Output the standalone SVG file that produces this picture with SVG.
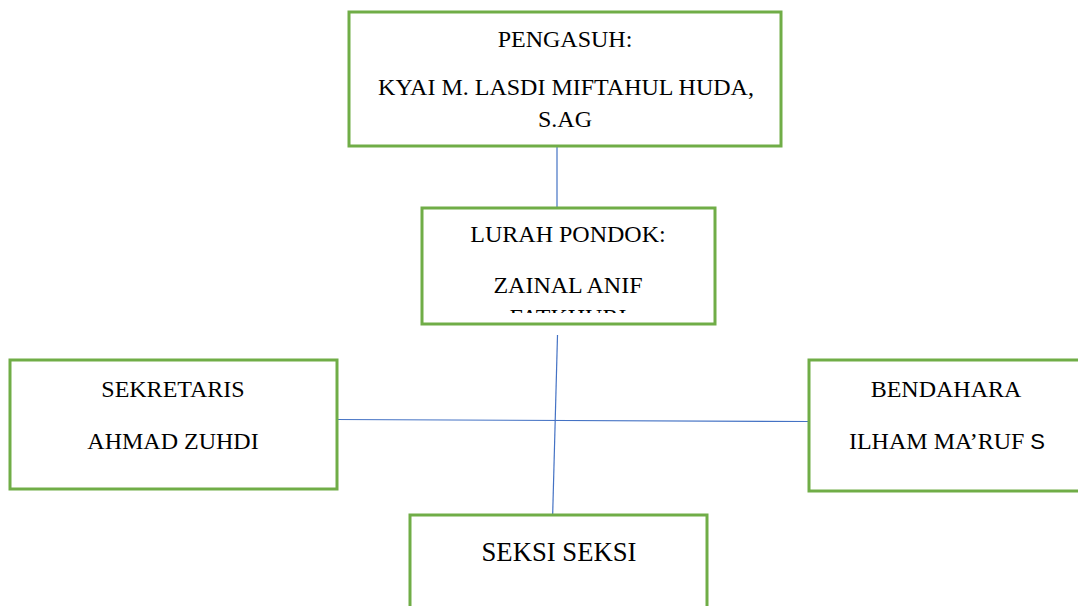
<svg xmlns="http://www.w3.org/2000/svg" width="1078" height="606" viewBox="0 0 1078 606">
<style>
.box{fill:#fff;stroke:#70AD47;stroke-width:3}
.t{font-family:"Liberation Serif","Times New Roman",serif;font-size:24px;fill:#000;text-anchor:middle}
.con{stroke:#4472C4;stroke-width:1.2;fill:none}
</style>
<defs>
<clipPath id="clipLurah"><rect x="423" y="209" width="291" height="104"/></clipPath>
</defs>
<g id="connectors">
<line class="con" x1="557" y1="146" x2="557" y2="208"/>
<line class="con" x1="557.5" y1="335" x2="552.7" y2="514"/>
<line class="con" x1="334" y1="419.5" x2="809" y2="421.5"/>
</g>
<g id="pengasuh">
<rect class="box" x="349" y="12" width="432" height="134"/>
<text class="t" x="565" y="47">PENGASUH:</text>
<text class="t" x="566" y="95">KYAI M. LASDI MIFTAHUL HUDA,</text>
<text class="t" x="565" y="127">S.AG</text>
</g>
<g id="lurah">
<rect class="box" x="422" y="208" width="293" height="116"/>
<g clip-path="url(#clipLurah)">
<text class="t" x="568" y="242">LURAH PONDOK:</text>
<text class="t" x="568" y="293">ZAINAL ANIF</text>
<text class="t" x="568" y="325">FATKHURI</text>
</g>
</g>
<g id="sekretaris">
<rect class="box" x="10" y="360" width="327" height="129"/>
<text class="t" x="173" y="397">SEKRETARIS</text>
<text class="t" x="173" y="449">AHMAD ZUHDI</text>
</g>
<g id="bendahara">
<rect class="box" x="809" y="360" width="280" height="131"/>
<text class="t" x="946" y="397">BENDAHARA</text>
<text class="t" x="947" y="449">ILHAM MA’RUF <tspan font-family="'Liberation Sans',Arial,sans-serif" font-size="22">S</tspan></text>
</g>
<g id="seksi">
<rect class="box" x="410" y="515" width="297" height="100"/>
<text class="t" x="559" y="561" style="font-size:26.7px">SEKSI SEKSI</text>
</g>
</svg>
